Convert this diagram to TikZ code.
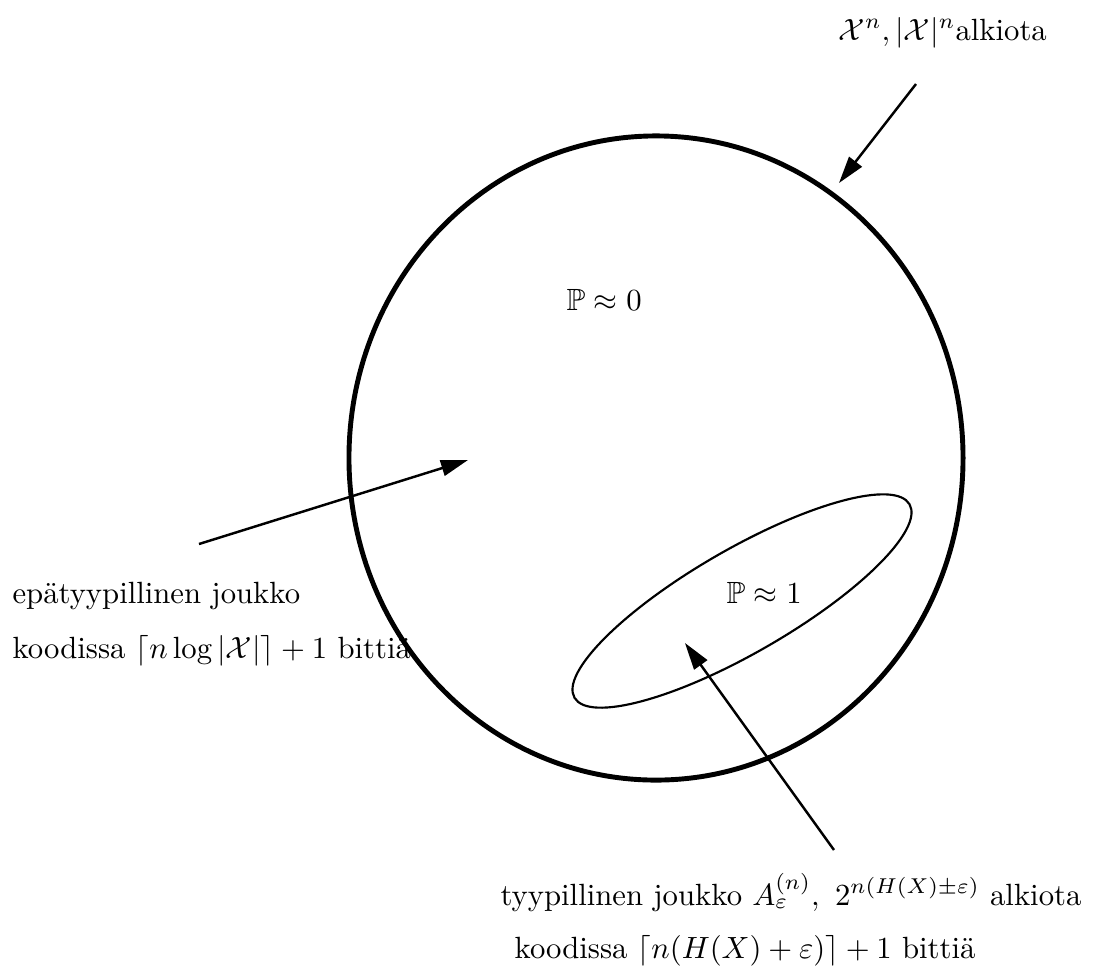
\documentclass[tikz,border=0pt]{standalone}
\usepackage{fontspec}
\usepackage{amssymb}
\usetikzlibrary{arrows.meta}
\begin{document}
\begin{tikzpicture}[x={(0.3257pt,0)},y={(0,-0.3257pt)},
  lbl/.style={inner sep=0pt,anchor=base west,font=\normalsize},
  arr/.style={line width=0.8pt,-{Triangle[length=8.8pt,width=5.2pt]}},
  bigset/.style={line width=1.6pt},
  smallset/.style={line width=0.7pt}]
\useasboundingbox (0,0) rectangle (1096,970);
% sets
\coordinate (C) at (656,458);
\draw[bigset] (C) ellipse [x radius=100pt, y radius=104.9pt];
\coordinate (E) at (742,601);
\draw[smallset,rotate around={30:(E)}] (E) ellipse [x radius=63pt, y radius=16.9pt];
% labels
\node[lbl] (top) at (838,40) {$\mathcal{X}^n,|\mathcal{X}|^n$alkiota};
\node[lbl] (p0) at (566,310) {$\mathbb{P}\approx 0$};
\node[lbl] (p1) at (726,603) {$\mathbb{P}\approx 1$};
\node[lbl] (l1) at (12,603) {epätyypillinen joukko};
\node[lbl] (l2) at (12,658) {koodissa $\lceil n\log|\mathcal{X}|\rceil+1$ bittiä};
\node[lbl] (b1) at (500,905) {tyypillinen joukko $A_\varepsilon^{(n)},\ 2^{n(H(X)\pm\varepsilon)}$ alkiota};
\node[lbl] (b2) at (514,958) {koodissa $\lceil n(H(X)+\varepsilon)\rceil+1$ bittiä};
% arrows
\coordinate (a1s) at (916,84);
\coordinate (a1e) at (839,183);
\coordinate (a2s) at (199,544);
\coordinate (a2e) at (468,460);
\coordinate (a3s) at (834,850);
\coordinate (a3e) at (685,643);
\draw[arr] (a1s) -- (a1e);
\draw[arr] (a2s) -- (a2e);
\draw[arr] (a3s) -- (a3e);
\end{tikzpicture}
\end{document}
